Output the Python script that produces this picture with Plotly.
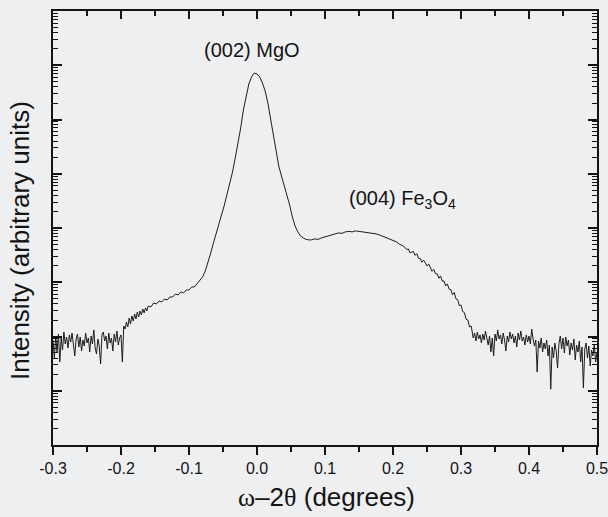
import plotly.graph_objects as go

# omega-2theta scan: scan angle offset (degrees) and detector intensity (arbitrary units)
omega_2theta = [
    -0.300, -0.298, -0.296, -0.294, -0.292, -0.290, -0.288, -0.286, -0.284, -0.282,
    -0.280, -0.278, -0.276, -0.274, -0.272, -0.270, -0.268, -0.266, -0.264, -0.262,
    -0.260, -0.258, -0.256, -0.254, -0.252, -0.250, -0.248, -0.246, -0.244, -0.242,
    -0.240, -0.238, -0.236, -0.234, -0.232, -0.230, -0.228, -0.226, -0.224, -0.222,
    -0.220, -0.218, -0.216, -0.214, -0.212, -0.210, -0.208, -0.206, -0.204, -0.202,
    -0.200, -0.198,
    -0.196, -0.194, -0.192, -0.190, -0.188, -0.186, -0.184, -0.182, -0.180, -0.178,
    -0.176, -0.174, -0.172, -0.170, -0.168, -0.166, -0.164, -0.162, -0.160, -0.156,
    -0.152, -0.148, -0.144, -0.140, -0.136, -0.132, -0.128, -0.124, -0.120, -0.116,
    -0.112, -0.108, -0.104, -0.100, -0.096, -0.092, -0.088, -0.084, -0.080,
    -0.076, -0.072, -0.068, -0.064, -0.060, -0.056, -0.052, -0.048, -0.044, -0.040,
    -0.036, -0.032, -0.028, -0.024, -0.020, -0.016, -0.012, -0.008, -0.004, 0.000,
    0.004, 0.008, 0.012, 0.016, 0.020, 0.024, 0.028, 0.032, 0.036, 0.040,
    0.044, 0.048, 0.052, 0.056, 0.060, 0.064, 0.068, 0.072, 0.076,
    0.080, 0.085, 0.090, 0.095, 0.100, 0.105, 0.110, 0.115, 0.120, 0.125,
    0.130, 0.135, 0.140, 0.145, 0.150, 0.155, 0.160, 0.165, 0.170, 0.175,
    0.180, 0.185, 0.190, 0.195, 0.200, 0.205, 0.210, 0.215,
    0.2200, 0.2225, 0.2250, 0.2275, 0.2300, 0.2325, 0.2350, 0.2375, 0.2400, 0.2425,
    0.2450, 0.2475, 0.2500, 0.2525, 0.2550, 0.2575, 0.2600, 0.2625, 0.2650, 0.2675,
    0.2700, 0.2725, 0.2750, 0.2775, 0.2800, 0.2825, 0.2850, 0.2875, 0.2900, 0.2925,
    0.2950, 0.2975, 0.3000, 0.3025, 0.3050, 0.3075, 0.3100, 0.3125, 0.3150,
    0.316, 0.318, 0.320, 0.322, 0.324, 0.326, 0.328, 0.330, 0.332, 0.334,
    0.336, 0.338, 0.340, 0.342, 0.344, 0.346, 0.348, 0.350, 0.352, 0.354,
    0.356, 0.358, 0.360, 0.362, 0.364, 0.366, 0.368, 0.370, 0.372, 0.374,
    0.376, 0.378, 0.380, 0.382, 0.384, 0.386, 0.388, 0.390, 0.392, 0.394,
    0.396, 0.398, 0.400, 0.402, 0.404, 0.406, 0.408, 0.410, 0.412, 0.414,
    0.416, 0.418, 0.420, 0.422, 0.424, 0.426, 0.428, 0.430, 0.432, 0.434,
    0.436, 0.438, 0.440, 0.442, 0.444, 0.446, 0.448, 0.450, 0.452, 0.454,
    0.456, 0.458, 0.460, 0.462, 0.464, 0.466, 0.468, 0.470, 0.472, 0.474,
    0.476, 0.478, 0.480, 0.482, 0.484, 0.486, 0.488, 0.490, 0.492, 0.494,
    0.496, 0.498, 0.500,
]

intensity = [
    86.2, 40.2, 102, 51.8, 111, 33.9, 93.8, 56.4, 121, 72.7,
    97.9, 61.4, 107, 79.2, 116, 69.7, 43.7, 89.9, 111, 64.0,
    97.9, 54.0, 86.2, 66.8, 116, 75.9, 93.8, 51.8, 102, 72.7,
    132, 61.4, 47.6, 89.9, 66.8, 31.1, 107, 121, 82.6, 102,
    58.8, 116, 75.9, 93.8, 54.0, 111, 79.2, 126, 69.7, 93.8,
    107, 33.9,
    156, 137, 185, 150, 219, 170, 239, 193, 260, 210,
    283, 229, 296, 249, 322, 271, 336, 296, 365, 350,
    415, 398, 452, 433, 492, 472, 536, 536, 608, 583,
    662, 635, 721, 721, 819, 819, 931, 1057, 1253,
    1617, 2272, 3475, 5315, 7791, 11850, 16630, 26550, 42350, 64720,
    107700, 195100, 353400, 697000, 1497000, 2830000, 4510000, 6070000, 7200000, 6900000,
    6070000, 4710000, 3350000, 2010000, 1021000, 496000, 252000, 139000, 90900, 62100,
    42350, 26550, 15950, 10890, 8482, 7156, 6573, 6170, 6038,
    6038, 6300, 6170, 6573, 6858, 7000, 7467, 7630, 8129, 7960,
    8482, 8660, 8482, 8850, 8660, 8482, 8482, 8129, 7960, 7791,
    7467, 7000, 6710, 6300, 5910, 5545, 4990, 4679,
    4030, 4119, 3475, 3626, 3700, 3125, 3370, 2750, 2750, 2340,
    2560, 2272, 2000, 2177, 1837, 1585, 1720, 1440, 1423, 1185,
    1307, 1045, 1050, 855, 931, 745, 735, 590, 648, 498,
    482, 370, 381, 288, 277, 208, 202, 150, 156,
    126, 93.8, 116, 82.6, 121, 89.9, 107, 75.9, 111, 86.2,
    126, 97.9, 69.7, 102, 51.8, 93.8, 43.7, 111, 82.6, 132,
    89.9, 107, 72.7, 116, 86.2, 54.0, 102, 79.2, 121, 89.9,
    111, 75.9, 102, 64.0, 116, 86.2, 126, 82.6, 97.9, 69.7,
    107, 79.2, 102, 72.7, 137, 89.9, 66.8, 86.2, 22.1, 82.6,
    61.4, 93.8, 51.8, 75.9, 58.8, 86.2, 43.7, 69.7, 10.7, 64.0,
    40.2, 75.9, 54.0, 26.2, 72.7, 102, 58.8, 93.8, 49.6, 97.9,
    66.8, 86.2, 45.6, 75.9, 56.4, 89.9, 36.9, 69.7, 51.8, 82.6,
    33.9, 64.0, 11.2, 58.8, 75.9, 40.2, 66.8, 28.6, 56.4, 43.7,
    72.7, 33.9, 51.8,
]

x_ticks = [-0.3, -0.2, -0.1, 0.0, 0.1, 0.2, 0.3, 0.4, 0.5]
x_tick_text = ["-0.3", "-0.2", "-0.1", "0.0", "0.1", "0.2", "0.3", "0.4", "0.5"]

peak_labels = [
    {"text": "(002) MgO", "x": -0.008, "y": 0.910},
    {"text": "(004) Fe<sub>3</sub>O<sub>4</sub>", "x": 0.214, "y": 0.565},
]

BG = "#eeeff1"
INK = "#141414"
CLEAR = "rgba(0,0,0,0)"
FONT = "Arial, Liberation Sans, sans-serif"
SERIF = "Liberation Serif, Times New Roman, serif"
X_RANGE = [-0.3, 0.5]
Y_RANGE = [0, 8]  # log10 decades

fig = go.Figure()
fig.add_trace(go.Scatter(x=omega_2theta, y=intensity, mode="lines",
                         line=dict(color="#1c1c1c", width=1)))
# transparent copies that give the top and right frame axes a trace to follow
fig.add_trace(go.Scatter(x=omega_2theta, y=intensity, xaxis="x2", yaxis="y",
                         mode="lines", opacity=0))
fig.add_trace(go.Scatter(x=omega_2theta, y=intensity, xaxis="x", yaxis="y2",
                         mode="lines", opacity=0))

fig.update_layout(
    width=608, height=517, showlegend=False, hovermode=False,
    margin=dict(l=53, r=11, t=11, b=72, autoexpand=False),
    paper_bgcolor=BG, plot_bgcolor=BG,
    xaxis=dict(range=X_RANGE, showline=True, linecolor=INK, linewidth=2, showgrid=False,
               zeroline=False, automargin=False, tickmode="array", tickvals=x_ticks,
               ticktext=x_tick_text, ticklabeloverflow="allow",
               ticks="outside", ticklen=8, tickwidth=1.5, tickcolor=INK,
               tickfont=dict(size=16, family=FONT, color=INK),
               minor=dict(ticks="outside", ticklen=5, dtick=0.05, tickwidth=1.5,
                          tickcolor=INK, showgrid=False)),
    xaxis2=dict(range=X_RANGE, overlaying="x", side="top", anchor="y",
                showline=True, linecolor=INK, linewidth=2, showgrid=False, zeroline=False,
                automargin=False, tickmode="array", tickvals=x_ticks, ticktext=x_tick_text,
                ticks="inside", ticklen=8, tickcolor=INK, tickwidth=1.5,
                tickfont=dict(color=CLEAR, size=8),
                minor=dict(ticks="inside", ticklen=5, dtick=0.05, tickcolor=INK,
                           tickwidth=1.5, showgrid=False)),
    yaxis=dict(type="log", range=Y_RANGE, showline=True, linecolor=INK, linewidth=2,
               ticks="inside", ticklen=9, dtick=1, showgrid=False, zeroline=False,
               automargin=False, tickfont=dict(color=CLEAR, size=8), tickwidth=1.5,
               tickcolor=INK,
               minor=dict(ticks="inside", ticklen=5, dtick="D1", tickwidth=1,
                          tickcolor=INK, showgrid=False)),
    yaxis2=dict(type="log", range=Y_RANGE, overlaying="y", side="right", anchor="x",
                showline=True, linecolor=INK, linewidth=2, showgrid=False, zeroline=False,
                automargin=False, tickfont=dict(color=CLEAR, size=8),
                ticks="inside", ticklen=9, tickcolor=INK, tickwidth=1.5, dtick=1,
                minor=dict(ticks="inside", ticklen=5, dtick="D1", tickcolor=INK,
                           tickwidth=1, showgrid=False)),
)

for lab in peak_labels:
    fig.add_annotation(text=lab["text"], x=lab["x"], xref="x", y=lab["y"], yref="paper",
                       showarrow=False, font=dict(size=20, family=FONT, color=INK),
                       xanchor="center", yanchor="middle")

fig.add_annotation(text="Intensity (arbitrary units)", textangle=-90,
                   x=-0.061, xref="paper", y=0.472, yref="paper",
                   showarrow=False, xanchor="center", yanchor="middle",
                   font=dict(size=26, family=FONT, color=INK))
fig.add_annotation(
    text=f"<span style='font-family:{SERIF}'>ω</span>–2"
         f"<span style='font-family:{SERIF}'>θ</span> (degrees)",
    x=0.503, xref="paper", y=-0.12, yref="paper",
    showarrow=False, xanchor="center", yanchor="middle",
    font=dict(size=26, family=FONT, color=INK))

fig.write_html("out.html")
